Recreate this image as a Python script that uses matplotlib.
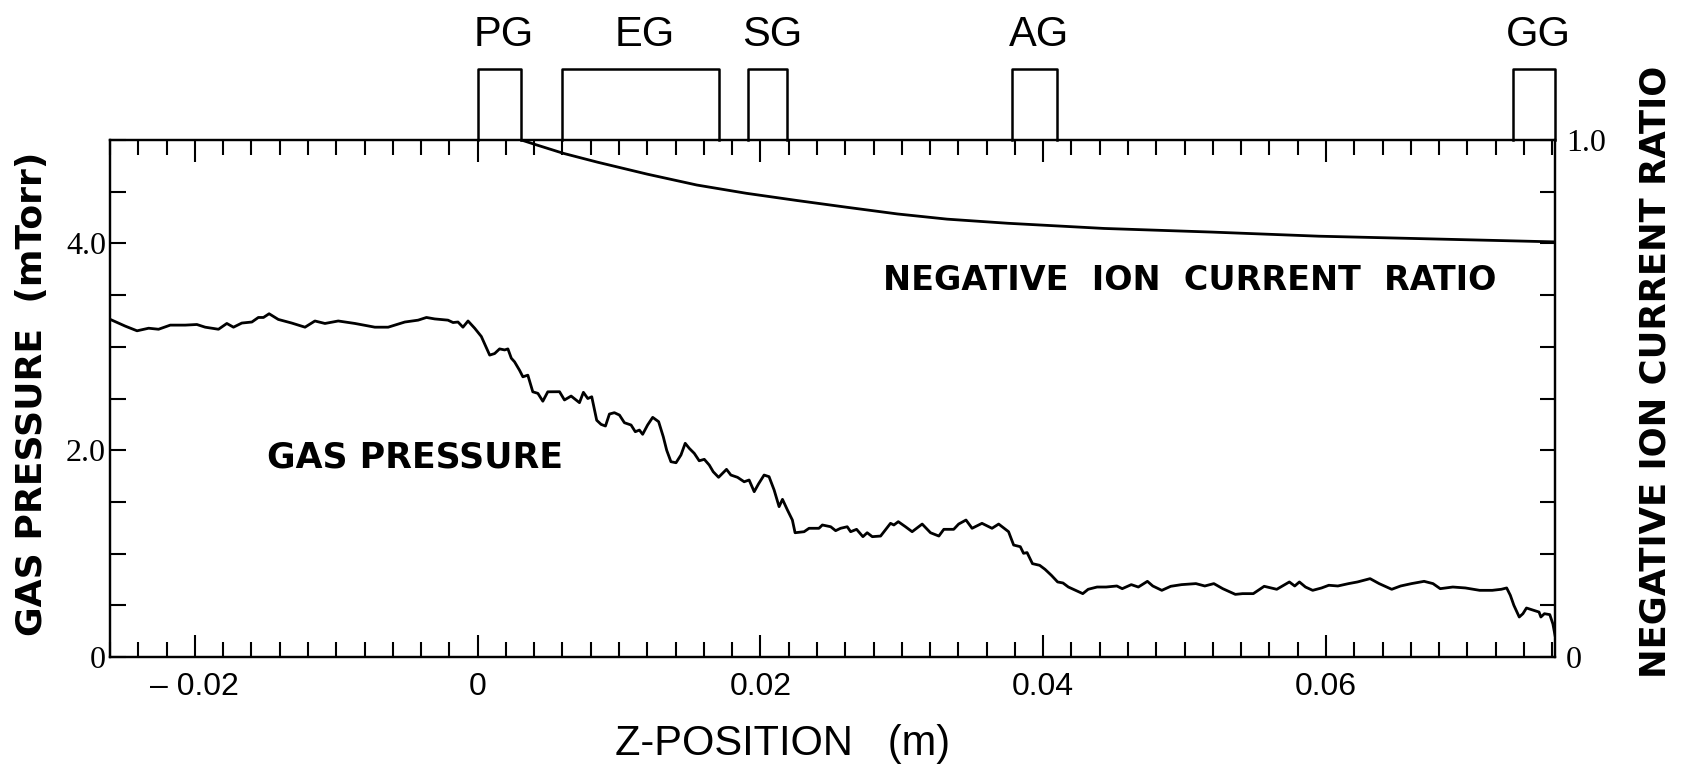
import matplotlib
matplotlib.use("Agg")
import matplotlib.pyplot as plt
from matplotlib.ticker import MultipleLocator, FixedLocator

# gas pressure (mTorr) along z (m)
gas_z = [-0.0259, -0.02492, -0.02409, -0.02327, -0.02257, -0.02174, -0.02068, -0.01986,
         -0.01927, -0.01833, -0.01774, -0.01727, -0.01668, -0.01597, -0.01551, -0.01515,
         -0.01475, -0.01410, -0.01315, -0.01221, -0.01151, -0.01080, -0.00986, -0.00868,
         -0.00727, -0.00633, -0.00515, -0.00421, -0.00362, -0.00304, -0.00210, -0.00174,
         -0.00139, -0.00104, -0.00068, -0.00021, 0.00026, 0.00085, 0.00120, 0.00155,
         0.00191, 0.00214, 0.00238, 0.00261, 0.00296, 0.00320, 0.00355, 0.00390,
         0.00426, 0.00461, 0.00496,
         0.00579, 0.00614, 0.00661, 0.00720, 0.00748, 0.00779, 0.00807, 0.00842,
         0.00873, 0.00904, 0.00932, 0.00967, 0.01003, 0.01038, 0.01085, 0.01115,
         0.01144, 0.01167, 0.01202, 0.01238, 0.01280, 0.01313, 0.01337, 0.01367,
         0.01403, 0.01438, 0.01468, 0.01497, 0.01532, 0.01567, 0.01603, 0.01638,
         0.01666, 0.01704, 0.01732, 0.01760, 0.01791, 0.01838, 0.01885, 0.01920,
         0.01956, 0.01986, 0.02026, 0.02061, 0.02097, 0.02132, 0.02156, 0.02191,
         0.02226, 0.02245, 0.02309, 0.02344, 0.02414, 0.02438, 0.02497, 0.02532,
         0.02567, 0.02614, 0.02638, 0.02680, 0.02725, 0.02755, 0.02791, 0.02850,
         0.02920, 0.02944, 0.02975, 0.03026, 0.03073, 0.03144, 0.03203, 0.03262,
         0.03297, 0.03367, 0.03402, 0.03454, 0.03497, 0.03567, 0.03638, 0.03685,
         0.03755, 0.03791, 0.03838, 0.03861,
         0.03886, 0.03924, 0.03975, 0.04013, 0.04058, 0.04102, 0.04140, 0.04178,
         0.04229, 0.04280, 0.04318, 0.04381, 0.04445, 0.04521, 0.04559, 0.04623,
         0.04673, 0.04737, 0.04775, 0.04839, 0.04902, 0.04978, 0.05080, 0.05143,
         0.05207, 0.05270, 0.05359, 0.05410, 0.05486, 0.05563, 0.05652, 0.05741,
         0.05779, 0.05812, 0.05855, 0.05906, 0.05969, 0.06020, 0.06084, 0.06160,
         0.06223, 0.06312, 0.06376, 0.06465, 0.06528, 0.06605, 0.06694, 0.06757,
         0.06808, 0.06897, 0.06986, 0.07087, 0.07176, 0.07240, 0.07278, 0.07304,
         0.07329, 0.07367, 0.07393, 0.07418, 0.07469, 0.07507, 0.07520, 0.07545,
         0.07583, 0.07605, 0.0762]
gas_p = [3.26, 3.20, 3.155, 3.18, 3.17, 3.21, 3.21, 3.216,
         3.19, 3.17, 3.226, 3.19, 3.23, 3.24, 3.284, 3.284,
         3.32, 3.265, 3.23, 3.19, 3.25, 3.226, 3.25, 3.226,
         3.19, 3.19, 3.24, 3.258, 3.284, 3.27, 3.258, 3.235,
         3.24, 3.19, 3.25, 3.18, 3.10, 2.92, 2.935, 2.98,
         2.97, 2.98, 2.89, 2.855, 2.774, 2.71, 2.726, 2.565,
         2.55, 2.474, 2.565,
         2.566, 2.486, 2.524, 2.46, 2.56, 2.50, 2.517, 2.29,
         2.25, 2.234, 2.35, 2.363, 2.34, 2.266, 2.244, 2.179,
         2.195, 2.154, 2.244, 2.318, 2.276, 2.13, 2.0, 1.889,
         1.879, 1.954, 2.067, 2.018, 1.97, 1.898, 1.912, 1.857,
         1.792, 1.738, 1.777, 1.815, 1.76, 1.738, 1.695, 1.712,
         1.599, 1.673, 1.76, 1.744, 1.615, 1.454, 1.525, 1.422,
         1.325, 1.202, 1.212, 1.245, 1.245, 1.277, 1.26, 1.222,
         1.245, 1.26, 1.212, 1.235, 1.164, 1.202, 1.164, 1.17,
         1.293, 1.277, 1.309, 1.26, 1.212, 1.286, 1.202, 1.17,
         1.235, 1.235, 1.286, 1.325, 1.245, 1.293, 1.245, 1.286,
         1.212, 1.083, 1.067, 1.003,
         1.01, 0.903, 0.887, 0.848, 0.79, 0.726, 0.716, 0.677,
         0.645, 0.613, 0.655, 0.677, 0.677, 0.687, 0.661, 0.70,
         0.677, 0.732, 0.687, 0.645, 0.684, 0.70, 0.71, 0.687,
         0.71, 0.661, 0.606, 0.613, 0.613, 0.684, 0.655, 0.726,
         0.687, 0.726, 0.677, 0.645, 0.668, 0.694, 0.687, 0.71,
         0.726, 0.758, 0.71, 0.655, 0.687, 0.71, 0.732, 0.71,
         0.661, 0.677, 0.668, 0.645, 0.645, 0.655, 0.668, 0.597,
         0.50, 0.387, 0.419, 0.474, 0.452, 0.435, 0.387, 0.419,
         0.41, 0.32, 0.21]

# negative ion current ratio
ratio_z = [0.0031, 0.0040, 0.0061, 0.0085, 0.0120, 0.0155, 0.0190, 0.0226, 0.0261,
           0.0297, 0.0332, 0.0375, 0.0443, 0.0519, 0.0595, 0.0671, 0.0762]
ratio_v = [1.0, 0.992, 0.974, 0.957, 0.934, 0.913, 0.897, 0.883, 0.870,
           0.857, 0.847, 0.839, 0.829, 0.822, 0.814, 0.809, 0.803]

# electrodes
electrodes = ["PG", "EG", "SG", "AG", "GG"]
elec_start = [0.0, 0.0060, 0.0191, 0.0378, 0.0732]
elec_end = [0.0031, 0.0171, 0.0219, 0.0410, 0.0762]

x_ticks = [-0.02, 0, 0.02, 0.04, 0.06]
x_labels = ["\u2013 0.02", "0", "0.02", "0.04", "0.06"]
left_ticks = [0, 2.0, 4.0]
left_labels = ["0", "2.0", "4.0"]
right_ticks = [0, 1.0]
right_labels = ["0", "1.0"]

sans = ["Liberation Sans", "DejaVu Sans"]
serif = ["Liberation Serif", "DejaVu Serif"]

fig = plt.figure(figsize=(16.93, 7.78), dpi=100)
ax = fig.add_axes([0.065, 0.1555, 0.8535, 0.6645])
ax2 = ax.twinx()

ax.plot(gas_z, gas_p, color="black", lw=2.0)
ax2.plot(ratio_z, ratio_v, color="black", lw=2.0)

ax.set_xlim(-0.026, 0.0762)
ax.set_ylim(0, 5.0)
ax2.set_ylim(0, 1.0)

for sp in list(ax.spines.values()) + list(ax2.spines.values()):
    sp.set_linewidth(1.6)

ax.xaxis.set_major_locator(FixedLocator(x_ticks))
ax.xaxis.set_minor_locator(MultipleLocator(0.002))
ax.set_xticklabels(x_labels, fontsize=23, family=sans)
ax.tick_params(axis="x", which="both", direction="in", top=True, bottom=True, width=1.5, pad=11)
ax.tick_params(axis="x", which="major", length=16)
ax.tick_params(axis="x", which="minor", length=11)

ax.yaxis.set_major_locator(FixedLocator(left_ticks))
ax.yaxis.set_minor_locator(MultipleLocator(0.5))
ax.set_yticklabels(left_labels, fontsize=23, family=serif)
ax.tick_params(axis="y", which="both", direction="in", length=11.5, width=1.5,
               left=True, right=False, pad=3)

ax2.yaxis.set_major_locator(FixedLocator(right_ticks))
ax2.yaxis.set_minor_locator(MultipleLocator(0.1))
ax2.set_yticklabels(right_labels, fontsize=23, family=serif)
ax2.tick_params(axis="y", which="both", direction="in", length=11, width=1.5, pad=8)

# electrode boxes above the frame
trans = ax.get_xaxis_transform()
box_top = 1.137
for name, x0, x1 in zip(electrodes, elec_start, elec_end):
    ax.plot([x0, x0, x1, x1], [1.0, box_top, box_top, 1.0], color="black", lw=1.8,
            transform=trans, clip_on=False)
    ax.text((x0 + x1) / 2 + 0.0003, 1.203, name, transform=trans, ha="center", va="center",
            fontsize=30, family=sans)

ax.text(0.0287, 3.64, "NEGATIVE  ION  CURRENT  RATIO", fontsize=24, fontweight="bold",
        family="DejaVu Sans", ha="left", va="center")
ax.text(-0.0149, 1.93, "GAS PRESSURE", fontsize=25, fontweight="bold",
        family="DejaVu Sans", ha="left", va="center")

fig.text(0.0189, 0.4936, "GAS PRESSURE  (mTorr)", rotation=90, fontsize=26,
         fontweight="bold", family="DejaVu Sans", ha="center", va="center")
fig.text(0.9776, 0.522, "NEGATIVE ION CURRENT RATIO", rotation=90, fontsize=25.5,
         fontweight="bold", family="DejaVu Sans", ha="center", va="center")
fig.text(0.4625, 0.0437, "Z-POSITION   (m)", fontsize=30, family=sans,
         ha="center", va="center")

fig.savefig("out.png", dpi=100, facecolor="white")
